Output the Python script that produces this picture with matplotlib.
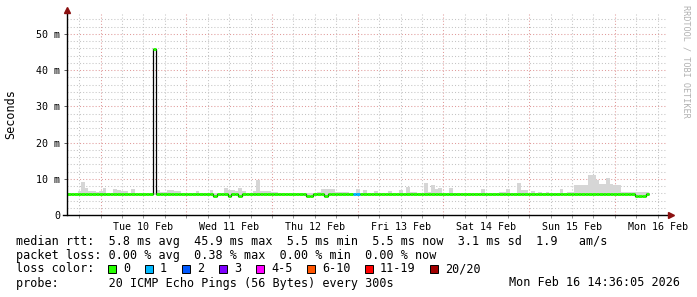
import numpy as np
import matplotlib
matplotlib.use("Agg")
import matplotlib.pyplot as plt
import matplotlib.dates as mdates
from matplotlib.ticker import MultipleLocator, FuncFormatter, NullFormatter
from matplotlib.patches import Rectangle
from datetime import datetime, timedelta

# ---------------- data (hourly bins, starting Mon 09 Feb 2026 14:36) ----------------
start_time = datetime(2026, 2, 9, 14, 36)
n_bins = 168

# median RTT in ms (one value per hour)
median_ms = [
    5.8, 5.8, 5.8, 5.8, 5.8, 5.8, 5.8, 5.8, 5.8, 5.8, 5.8, 5.8,
    5.8, 5.8, 5.8, 5.8, 5.8, 5.8, 5.8, 5.8, 5.8, 5.8, 5.8, 5.8,
    45.9, 5.8, 5.8, 5.8, 5.8, 5.8, 5.8, 5.8, 5.8, 5.8, 5.8, 5.8,
    5.8, 5.8, 5.8, 5.8, 5.8, 5.35, 5.8, 5.8, 5.8, 5.35, 5.8, 5.8,
    5.35, 5.8, 5.8, 5.8, 5.8, 5.8, 5.8, 5.8, 5.8, 5.8, 5.8, 5.8,
    5.8, 5.8, 5.8, 5.8, 5.8, 5.8, 5.8, 5.35, 5.35, 5.8, 5.8, 5.8,
    5.35, 5.8, 5.8, 5.8, 5.8, 5.8, 5.8, 5.8, 5.8, 5.8, 5.8, 5.8,
    5.8, 5.8, 5.8, 5.8, 5.8, 5.8, 5.8, 5.8, 5.8, 5.8, 5.8, 5.8,
    5.8, 5.8, 5.8, 5.8, 5.8, 5.8, 5.8, 5.8, 5.8, 5.8, 5.8, 5.8,
    5.8, 5.8, 5.8, 5.8, 5.8, 5.8, 5.8, 5.8, 5.8, 5.8, 5.8, 5.8,
    5.8, 5.8, 5.8, 5.8, 5.8, 5.8, 5.8, 5.8, 5.8, 5.8, 5.8, 5.8,
    5.8, 5.8, 5.8, 5.8, 5.8, 5.8, 5.8, 5.8, 5.8, 5.8, 5.8, 5.8,
    5.8, 5.8, 5.8, 5.8, 5.8, 5.8, 5.8, 5.8, 5.8, 5.8, 5.8, 5.8,
    5.8, 5.8, 5.8, 5.35, 5.35, 5.35, 5.8, np.nan,
]

# upper edge of the ping "smoke" in ms
smoke_top_ms = [
    6.2, 6.2, 6.2, 6.7, 9.1, 7.4, 6.7, 6.7, 6.3, 6.6, 7.5, 6.2,
    6.2, 7.2, 6.8, 6.6, 6.6, 6.2, 7.2, 6.2, 6.2, 6.2, 6.2, 6.2,
    6.0, 6.8, 6.3, 6.3, 7.0, 7.0, 6.6, 6.6, 6.2, 6.2, 6.2, 6.2,
    6.6, 6.2, 6.2, 6.2, 7.0, 6.2, 6.2, 6.2, 7.5, 6.9, 6.8, 6.6,
    7.4, 6.6, 6.2, 6.2, 6.6, 9.7, 6.5, 6.5, 6.5, 6.3, 6.3, 6.0,
    6.0, 6.0, 6.0, 6.0, 6.0, 6.0, 6.0, 6.1, 6.1, 6.0, 6.4, 7.2,
    7.3, 7.3, 7.3, 6.3, 6.3, 6.3, 6.3, 6.0, 6.0, 7.3, 6.0, 7.0,
    6.0, 6.0, 6.6, 6.0, 6.0, 6.0, 6.6, 6.0, 6.0, 7.0, 6.0, 7.6,
    6.3, 6.3, 6.0, 6.0, 8.9, 6.3, 8.3, 7.3, 7.4, 6.2, 6.2, 7.4,
    6.1, 6.1, 6.1, 6.1, 6.1, 6.1, 6.1, 6.1, 7.2, 6.1, 6.1, 6.1,
    6.1, 6.4, 6.4, 7.3, 6.1, 6.1, 8.9, 7.0, 7.0, 6.1, 6.7, 6.1,
    6.4, 6.1, 6.4, 6.1, 6.1, 6.1, 7.1, 6.1, 6.4, 6.4, 8.4, 8.4,
    8.4, 8.4, 11.0, 11.0, 9.8, 8.6, 8.6, 10.3, 8.6, 8.3, 8.3, 6.4,
    6.4, 6.4, 6.4, 6.4, 6.4, 6.4, 6.4, 6.0, 8.3, 6.0, 6.0, np.nan,
]

# loss class per bin (index into loss_labels / loss_colors)
loss_class = [0] * 80 + [1, 1] + [0] * 86

rtt_min_ms = 5.5

loss_labels = ["0", "1", "2", "3", "4-5", "6-10", "11-19", "20/20"]
loss_colors = ["#26ff00", "#00b8ff", "#0059ff", "#7e00ff",
               "#ff00ff", "#ff5500", "#ff0000", "#a10000"]

stats_lines = [
    "median rtt:  5.8 ms avg  45.9 ms max  5.5 ms min  5.5 ms now  3.1 ms sd  1.9   am/s",
    "packet loss: 0.00 % avg  0.38 % max  0.00 % min  0.00 % now",
]
probe_text = "probe:       20 ICMP Echo Pings (56 Bytes) every 300s"
stamp_text = "Mon Feb 16 14:36:05 2026"

# ---------------- figure ----------------
W, H = 697, 297
FONT = "DejaVu Sans Mono"
FS = 8.5
TFS = 7.2
plt.rcParams["font.family"] = FONT

fig = plt.figure(figsize=(W / 100, H / 100), dpi=100)
fig.patch.set_facecolor("white")

def fx(px):
    return px / W

def fy(py):
    return 1 - py / H

ax = fig.add_axes([fx(67), 82 / H, 600 / W, 201 / H])
ax.set_facecolor("white")

edges = mdates.date2num([start_time + timedelta(hours=i) for i in range(n_bins + 1)])
median = np.array(median_ms, dtype=float)
smoke = np.array(smoke_top_ms, dtype=float)
valid = ~np.isnan(median)
nv = int(valid.sum())

# smoke
ax.stairs(smoke[:nv], edges[:nv + 1], baseline=rtt_min_ms, fill=True,
          color="#d6d6d6", linewidth=0, zorder=2)
# thin dark median outline (verticals)
ax.stairs(median[:nv], edges[:nv + 1], baseline=None, color="#000000",
          linewidth=0.9, zorder=3)
# loss coloured median segments
seg_colors = [loss_colors[c] for c in loss_class[:nv]]
ax.hlines(median[:nv], edges[:nv], edges[1:nv + 1], colors=seg_colors,
          linewidth=2.1, zorder=4, capstyle="butt")

# limits
ax.set_xlim(edges[0], edges[-1])
ax.set_ylim(0, 55.5)

# grid
ax.yaxis.set_major_locator(MultipleLocator(10))
ax.yaxis.set_minor_locator(MultipleLocator(2))
ax.xaxis.set_major_locator(mdates.DayLocator())
ax.xaxis.set_minor_locator(mdates.HourLocator(byhour=[0, 6, 12, 18]))

ax.grid(which="minor", color="#c4c4c4", linestyle=(0, (1, 2)), linewidth=0.75)
ax.grid(which="major", color="#e09a9a", linestyle=(0, (1, 2)), linewidth=0.75)
ax.set_axisbelow(True)

def xfmt(x, pos):
    d = mdates.num2date(x)
    if d.hour == 12:
        return d.strftime("%a %d %b")
    return ""

ax.xaxis.set_major_formatter(NullFormatter())
ax.xaxis.set_minor_formatter(FuncFormatter(xfmt))

def yfmt(v, pos):
    return "0" if abs(v) < 1e-9 else "%d m" % round(v)

ax.yaxis.set_major_formatter(FuncFormatter(yfmt))
ax.yaxis.set_minor_formatter(NullFormatter())

ax.tick_params(axis="x", which="both", length=2, width=0.7, color="#909090",
               pad=3, labelsize=TFS, labelcolor="#000000")
ax.tick_params(axis="y", which="major", length=2.2, width=0.7, color="#606060",
               pad=2.9, labelsize=TFS)
ax.tick_params(axis="y", which="minor", length=0)

for sp in ax.spines.values():
    sp.set_visible(False)

# axis lines with arrows
ax.plot([0, 0], [0, 1.012], transform=ax.transAxes, color="black",
        linewidth=1.0, clip_on=False, zorder=5)
ax.plot([-0.007, 1.004], [0, 0], transform=ax.transAxes, color="black",
        linewidth=1.0, clip_on=False, zorder=5)
ax.plot([0], [1.02], marker="^", markersize=4, color="#8b1010",
        transform=ax.transAxes, clip_on=False, zorder=6)
ax.plot([1.007], [0], marker=">", markersize=4, color="#8b1010",
        transform=ax.transAxes, clip_on=False, zorder=6)

# y label
fig.text(fx(11), fy(114), "Seconds", rotation=90, ha="center", va="center",
         fontsize=FS, family=FONT)

# watermark
fig.text(fx(686), fy(5), "RRDTOOL / TOBI OETIKER", rotation=-90, ha="center",
         va="top", fontsize=6.1, color="#b0b0b0", family=FONT)

# legend / stats text
fig.text(fx(16), fy(241), stats_lines[0], ha="left", va="center", fontsize=FS, family=FONT)
fig.text(fx(16), fy(255), stats_lines[1], ha="left", va="center", fontsize=FS, family=FONT)
fig.text(fx(16), fy(269), "loss color:", ha="left", va="center", fontsize=FS, family=FONT)

box_x = [108, 145, 182, 219, 256, 307, 365, 430]
for bx, lab, col in zip(box_x, loss_labels, loss_colors):
    fig.add_artist(Rectangle((fx(bx), fy(273)), 8 / W, 8 / H, transform=fig.transFigure,
                             facecolor=col, edgecolor="black", linewidth=0.7))
    fig.text(fx(bx + 15), fy(269), lab, ha="left", va="center", fontsize=FS, family=FONT)

fig.text(fx(16), fy(283), probe_text, ha="left", va="center", fontsize=FS, family=FONT)
fig.text(fx(680), fy(283), stamp_text, ha="right", va="center", fontsize=FS, family=FONT)

fig.savefig("out.png", dpi=100, facecolor="white")
